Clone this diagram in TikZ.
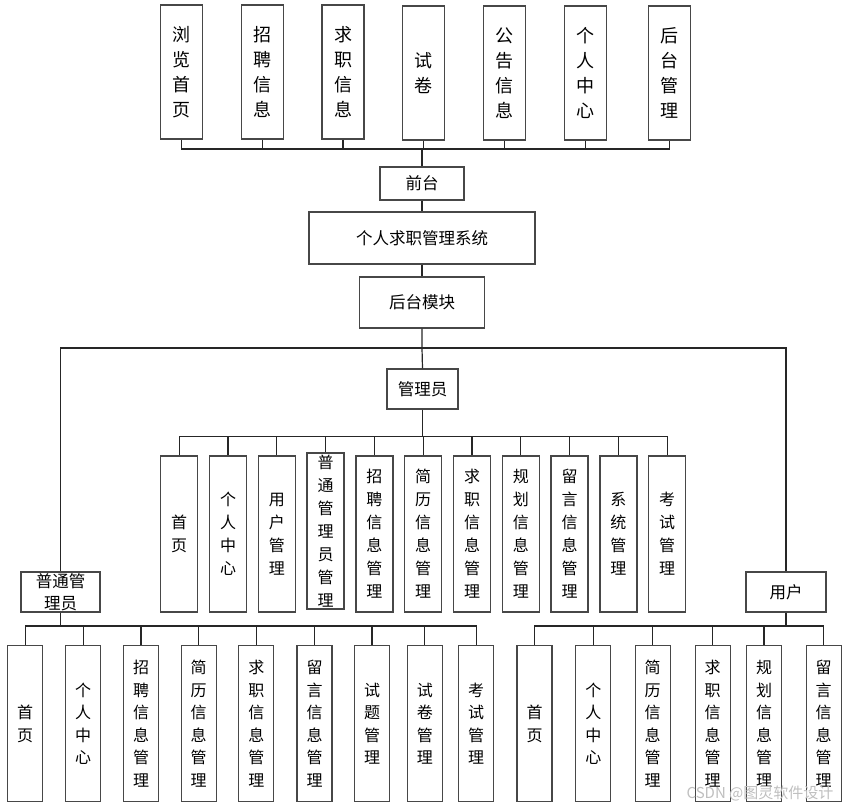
\documentclass[tikz,border=0pt]{standalone}
\usepackage{fontspec}
\newfontfamily\cjk{Noto Sans CJK SC}
\begin{document}
\begin{tikzpicture}[x=1pt,y=-1pt,
  box/.style={draw=black!72, line width=1.3pt, fill=white, inner sep=0pt, align=center},
  tbox/.style={box, minimum width=42pt, minimum height=134pt, font=\cjk\fontsize{18pt}{25pt}\selectfont},
  abox/.style={box, minimum width=37pt, minimum height=156pt, font=\cjk\fontsize{16pt}{23pt}\selectfont},
  bbox/.style={box, minimum width=35pt, minimum height=156pt, font=\cjk\fontsize{16pt}{22.5pt}\selectfont},
  hbox/.style={box, font=\cjk\fontsize{16.5pt}{22.5pt}\selectfont},
  conn/.style={draw=black!85, line width=1.2pt}
]
\useasboundingbox (0,0) rectangle (846,809);

% top row
\node[tbox] (t1) at (181.3,72) {浏\\览\\首\\页};
\node[tbox] (t2) at (262.3,72) {招\\聘\\信\\息};
\node[tbox] (t3) at (343,72) {求\\职\\信\\息};
\node[tbox] (t4) at (423.7,73) {试\\卷};
\node[tbox] (t5) at (504.3,73) {公\\告\\信\\息};
\node[tbox] (t6) at (585.2,73) {个\\人\\中\\心};
\node[tbox] (t7) at (669.7,73) {后\\台\\管\\理};

\node[hbox, minimum width=84pt, minimum height=33pt] (qt) at (422,183.5) {前台};
\node[hbox, minimum width=226pt, minimum height=52pt] (sys) at (422,238) {个人求职管理系统};
\node[hbox, minimum width=125pt, minimum height=51pt] (bk) at (422,302.5) {后台模块};
\node[hbox, minimum width=71pt, minimum height=40pt] (gly) at (422.5,389) {管理员};
\node[hbox, minimum width=79pt, minimum height=40pt] (pt) at (60.5,592) {普通管\\理员};
\node[hbox, minimum width=80pt, minimum height=40pt] (yh) at (786,592) {用户};

% admin children
\node[abox] (a1) at (179.2,534) {首\\页};
\node[abox] (a2) at (228,534) {个\\人\\中\\心};
\node[abox] (a3) at (276.8,534) {用\\户\\管\\理};
\node[abox] (a4) at (325.6,531) {普\\通\\管\\理\\员\\管\\理};
\node[abox] (a5) at (374.4,534) {招\\聘\\信\\息\\管\\理};
\node[abox] (a6) at (423.2,534) {简\\历\\信\\息\\管\\理};
\node[abox] (a7) at (472,534) {求\\职\\信\\息\\管\\理};
\node[abox] (a8) at (520.8,534) {规\\划\\信\\息\\管\\理};
\node[abox] (a9) at (569.6,534) {留\\言\\信\\息\\管\\理};
\node[abox] (a10) at (618.4,534) {系\\统\\管\\理};
\node[abox] (a11) at (667.2,534) {考\\试\\管\\理};

% ordinary admin children
\node[bbox] (p1) at (25.2,723.7) {首\\页};
\node[bbox] (p2) at (83.2,723.7) {个\\人\\中\\心};
\node[bbox] (p3) at (141,723.7) {招\\聘\\信\\息\\管\\理};
\node[bbox] (p4) at (198.7,723.7) {简\\历\\信\\息\\管\\理};
\node[bbox] (p5) at (256.3,723.7) {求\\职\\信\\息\\管\\理};
\node[bbox] (p6) at (314.5,723.7) {留\\言\\信\\息\\管\\理};
\node[bbox] (p7) at (372,723.7) {试\\题\\管\\理};
\node[bbox] (p8) at (424.8,723.7) {试\\卷\\管\\理};
\node[bbox] (p9) at (476.2,723.7) {考\\试\\管\\理};

% user children
\node[bbox] (u1) at (534.5,723.7) {首\\页};
\node[bbox] (u2) at (593.3,723.7) {个\\人\\中\\心};
\node[bbox] (u3) at (652.7,723.7) {简\\历\\信\\息\\管\\理};
\node[bbox] (u4) at (712.7,723.7) {求\\职\\信\\息\\管\\理};
\node[bbox] (u5) at (764,723.7) {规\\划\\信\\息\\管\\理};
\node[bbox] (u6) at (823.7,723.7) {留\\言\\信\\息\\管\\理};

% connectors
\coordinate (topbus) at (422,149);
\draw[conn] (qt.north) -- (topbus);
\foreach \n in {t1,t2,t3,t4,t5,t6,t7} \draw[conn] (\n.south) |- (topbus);
\draw[conn] (qt.south) -- (sys.north);
\draw[conn] (sys.south) -- (bk.north);
\coordinate (hb) at (422,348);
\draw[conn] (bk.south) -- (hb) -- (gly.north);
\draw[conn] (hb) -| (pt.north);
\draw[conn] (hb) -| (yh.north);
\coordinate (ab) at (422.5,436.7);
\draw[conn] (gly.south) -- (ab);
\foreach \n in {a1,a2,a3,a4,a5,a6,a7,a8,a9,a10,a11} \draw[conn] (\n.north) |- (ab);
\coordinate (pb) at (60.5,626);
\draw[conn] (pt.south) -- (pb);
\foreach \n in {p1,p2,p3,p4,p5,p6,p7,p8,p9} \draw[conn] (\n.north) |- (pb);
\coordinate (ub) at (786,626);
\draw[conn] (yh.south) -- (ub);
\foreach \n in {u1,u2,u3,u4,u5,u6} \draw[conn] (\n.north) |- (ub);

% watermark
\node[font=\cjk\fontsize{15pt}{18pt}\selectfont, text=black!25] (wm) at (760,793) {CSDN @图灵软件设计};
\end{tikzpicture}
\end{document}
